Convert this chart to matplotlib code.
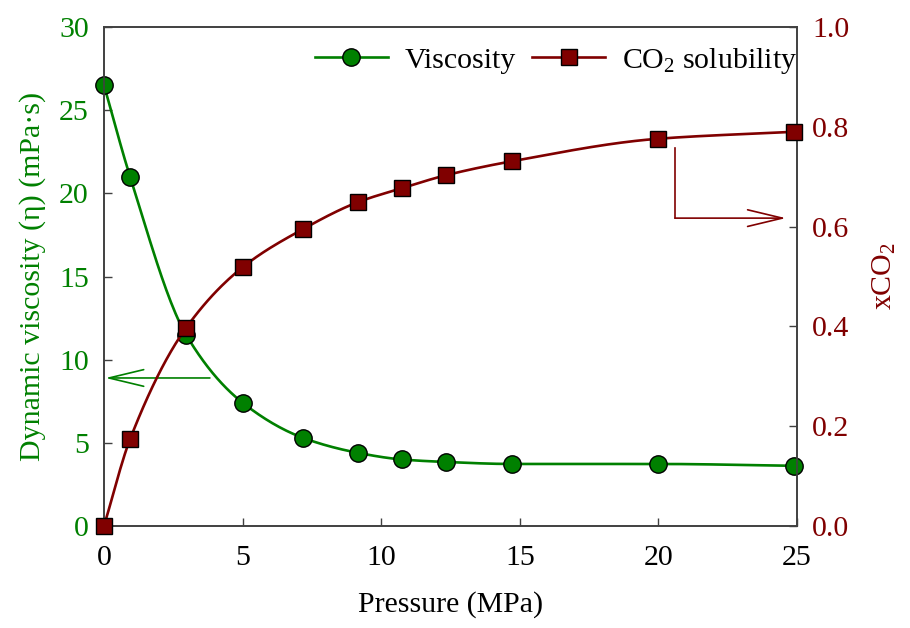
import numpy as np
import matplotlib
matplotlib.use("Agg")
import matplotlib.pyplot as plt

plt.rcParams['font.family'] = ['Liberation Serif', 'DejaVu Serif']
plt.rcParams['mathtext.fontset'] = 'custom'
plt.rcParams['mathtext.rm'] = 'Liberation Serif'
plt.rcParams['mathtext.it'] = 'Liberation Serif:italic'

# Measured data
pressure = [0.0, 0.94, 2.96, 5.01, 7.18, 9.16, 10.75, 12.34, 14.72, 19.98, 24.9]
viscosity = [26.5, 21.0, 11.5, 7.4, 5.3, 4.4, 4.0, 3.85, 3.73, 3.73, 3.62]
xco2 = [0.0, 0.174, 0.397, 0.519, 0.595, 0.649, 0.677, 0.703, 0.731, 0.776, 0.790]

GREEN = '#008000'
MAROON = '#800000'
SPINE = '#404040'
FS = 21.5


def smooth(x, y, n=300):
    # monotone cubic (PCHIP) through the points, for a smooth connecting line
    x = np.asarray(x, float)
    y = np.asarray(y, float)
    h = np.diff(x)
    d = np.diff(y) / h
    m = np.zeros_like(y)
    for k in range(1, len(x) - 1):
        if d[k - 1] * d[k] > 0:
            w1 = 2 * h[k] + h[k - 1]
            w2 = h[k] + 2 * h[k - 1]
            m[k] = (w1 + w2) / (w1 / d[k - 1] + w2 / d[k])
    m[0] = d[0]
    m[-1] = d[-1]
    xs = np.linspace(x[0], x[-1], n)
    idx = np.clip(np.searchsorted(x, xs) - 1, 0, len(x) - 2)
    t = (xs - x[idx]) / h[idx]
    h00 = 2 * t**3 - 3 * t**2 + 1
    h10 = t**3 - 2 * t**2 + t
    h01 = -2 * t**3 + 3 * t**2
    h11 = t**3 - t**2
    ys = (h00 * y[idx] + h10 * h[idx] * m[idx] + h01 * y[idx + 1]
          + h11 * h[idx] * m[idx + 1])
    return xs, ys


fig = plt.figure(figsize=(9.1, 6.28), dpi=100)
ax = fig.add_axes([0.1143, 0.1624, 0.7615, 0.7946])
ax2 = ax.twinx()

xs, ys = smooth(pressure, viscosity)
ax.plot(xs, ys, color=GREEN, lw=1.9, zorder=2)
ax.plot(pressure, viscosity, 'o', color=GREEN, mec='black', mew=1.0,
        ms=12.5, clip_on=False, zorder=3)

xs2, ys2 = smooth(pressure, xco2)
ax2.plot(xs2, ys2, color=MAROON, lw=1.9, zorder=2)
ax2.plot(pressure, xco2, 's', color=MAROON, mec='black', mew=1.0,
         ms=12, clip_on=False, zorder=3)

ax.set_xlim(0, 25)
ax.set_ylim(0, 30)
ax2.set_ylim(0, 1.0)
ax.set_xticks([0, 5, 10, 15, 20, 25])
ax.set_yticks([0, 5, 10, 15, 20, 25, 30])
ax2.set_yticks([0, 0.2, 0.4, 0.6, 0.8, 1.0])
ax2.set_yticklabels(['0.0', '0.2', '0.4', '0.6', '0.8', '1.0'])

for a in (ax, ax2):
    for s in a.spines.values():
        s.set_color(SPINE)
        s.set_linewidth(1.2)
    a.tick_params(direction='in', length=6, width=1.0, color=SPINE,
                  labelsize=FS)
ax.tick_params(axis='y', labelcolor=GREEN, pad=11)
ax2.tick_params(axis='y', labelcolor=MAROON, pad=11)
ax.tick_params(axis='x', pad=14)

ax.set_xlabel('Pressure (MPa)', fontsize=FS, labelpad=14)
ax.set_ylabel('Dynamic viscosity (η) (mPa·s)', fontsize=FS, color=GREEN,
              labelpad=9)
ax2.set_ylabel('xCO$_2$', fontsize=FS, color=MAROON, labelpad=15)

# arrows pointing to the matching axes
head = '->,head_length=2.5,head_width=0.6'
ax.annotate('', xy=(0.05, 8.9), xytext=(3.82, 8.9),
            arrowprops=dict(arrowstyle=head, color=GREEN, lw=1.2,
                            shrinkA=0, shrinkB=0))
ax2.plot([20.6, 20.6], [0.757, 0.617], color=MAROON, lw=1.2)
ax2.annotate('', xy=(24.6, 0.617), xytext=(20.6, 0.617),
             arrowprops=dict(arrowstyle=head, color=MAROON, lw=1.2,
                             shrinkA=0, shrinkB=0))

h1 = ax.plot([], [], 'o-', color=GREEN, mec='black', mew=1.0, ms=12.5,
             lw=1.9, label='Viscosity')[0]
h2 = ax.plot([], [], 's-', color=MAROON, mec='black', mew=1.0, ms=12,
             lw=1.9, label='CO$_2$ solubility')[0]
ax2.legend(handles=[h1, h2], loc='center right', ncol=2, frameon=False,
           fontsize=FS, bbox_to_anchor=(1.0, 0.932), borderaxespad=0,
           borderpad=0, handlelength=2.45, columnspacing=0.55,
           handletextpad=0.55)

fig.savefig('out.png', dpi=100)
